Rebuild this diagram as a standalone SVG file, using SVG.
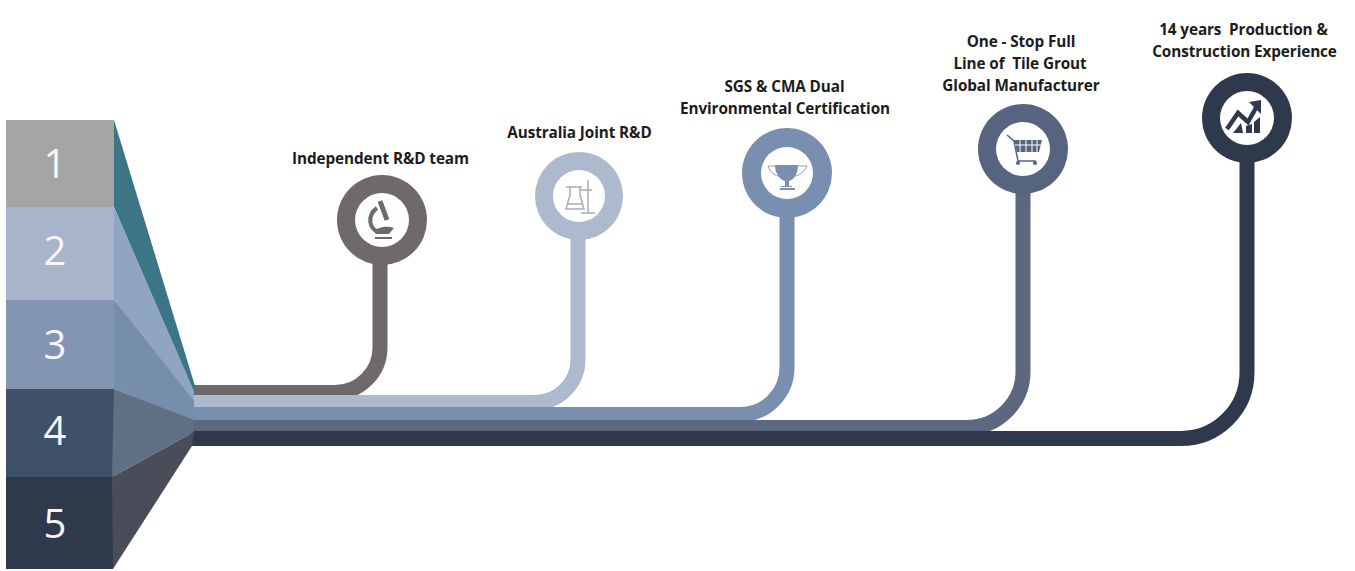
<svg xmlns="http://www.w3.org/2000/svg" width="1355" height="571" viewBox="0 0 1355 571">
<style>
.lbl{font-family:"Open Sans","Liberation Sans",sans-serif;font-weight:700;font-size:15.300px;letter-spacing:-.1px;fill:#1c1c1c;text-anchor:middle}
.num{font-family:"Open Sans","Liberation Sans",sans-serif;font-weight:500;font-size:40px;fill:#f4f6f9;text-anchor:middle}
.line{fill:none;stroke-width:15}
.hole{fill:#fff}
</style>
<rect width="1355" height="571" fill="#fff"/>
<g id="connectors">
<path class="line" stroke="#6f6a69" d="M190 392.500H335A45 45 0 0 0 380 347.500V250"/>
<path class="line" stroke="#adb9cd" d="M190 402.500H535A43 43 0 0 0 578 359.500V225"/>
<path class="line" stroke="#7a8fb0" d="M190 414.500H740A47 47 0 0 0 787 367.500V205"/>
<path class="line" stroke="#5b6880" d="M190 427.500H967A56 56 0 0 0 1023 371.500V180"/>
<path class="line" stroke="#2e3a4c" d="M190 438.500H1181A66 66 0 0 0 1247 372.500V150"/>
</g>
<g id="node-1"><rect x="6" y="120" width="108" height="87" fill="#a5a5a5"/><polygon points="114,120 195,386 195,396 114,207" fill="#3c7685"/><text class="num" x="55" y="178">1</text></g>
<g id="node-2"><rect x="6" y="207" width="108" height="93" fill="#a7b4c9"/><polygon points="114,207 194,391 194,408 114,300" fill="#90a5bf"/><text class="num" x="55" y="265">2</text></g>
<g id="node-3"><rect x="6" y="300" width="108" height="89" fill="#8195b3"/><polygon points="114,300 194,401 194,421 114,389" fill="#768ea9"/><text class="num" x="55" y="359">3</text></g>
<g id="node-4"><rect x="6" y="389" width="108" height="88" fill="#3f5069"/><polygon points="114,389 194,420 194,432 112,477" fill="#5f7085"/><text class="num" x="55" y="445">4</text></g>
<g id="node-5"><rect x="6" y="477" width="107" height="92" fill="#2e3a4c"/><polygon points="112,477 194,432 192,446 113,569" fill="#494d59"/><text class="num" x="55" y="538">5</text></g>
<g id="step-1">
<circle cx="382" cy="220" r="45" fill="#6f6a69"/><circle class="hole" cx="382" cy="220" r="27"/>
<path fill="none" stroke="#6f6a69" stroke-width="4" d="M377 208C367 215 368 231 381 232"/>
<path fill="none" stroke="#6f6a69" stroke-width="5" d="M380 201L387 220"/>
<path fill="#6f6a69" d="M374 232C378 226 388 226 394 228L389 234H376ZM375 237H392V239H375Z"/>
<text class="lbl" x="380.500" y="164">Independent R&amp;D team</text></g>
<g id="step-2">
<circle cx="579" cy="196" r="44" fill="#adb9cd"/><circle class="hole" cx="579" cy="196" r="26"/>
<path fill="none" stroke="#a5adba" stroke-width="1.500" d="M566 187H582M570 187V195L566 209H584L580 195V187M588 180V213M581 213H595M580 190H592M567 204H583"/>
<text class="lbl" x="579.500" y="138">Australia Joint R&amp;D</text></g>
<g id="step-3">
<circle cx="787" cy="173" r="45" fill="#7a8fb0"/><circle class="hole" cx="787" cy="173" r="26"/>
<path fill="#7a8fb0" d="M775 165H798C798 175 793 180 789 181V186H792V187H781V186H785V181C781 180 775 175 775 165ZM780 188H795V190H780Z"/>
<path fill="none" stroke="#8f9fb8" d="M775 166L768 166C770 172 774 175 778 176M798 166L807 166C804 172 800 175 795 176"/>
<text class="lbl" x="784.500" y="92">SGS &amp; CMA Dual</text><text class="lbl" x="785" y="114">Environmental Certification</text></g>
<g id="step-4">
<circle cx="1023" cy="149" r="45" fill="#56647f"/><circle class="hole" cx="1023" cy="149" r="27"/>
<path fill="none" stroke="#56647f" stroke-width="1.500" d="M1007 135L1014 141L1018 161H1036"/>
<path fill="#56647f" d="M1014 140H1042L1039 152H1017Z"/><circle cx="1018" cy="163" r="2" fill="#56647f"/><circle cx="1035" cy="163" r="2" fill="#56647f"/>
<path fill="none" stroke="#fff" d="M1015 145H1041M1020 140V152M1026 140V152M1032 140V152M1037 140V152"/>
<text class="lbl" x="1021" y="47">One - Stop Full</text><text class="lbl" x="1020" y="69" xml:space="preserve">Line of  Tile Grout</text><text class="lbl" x="1021" y="91">Global Manufacturer</text></g>
<g id="step-5">
<circle cx="1247" cy="118" r="45" fill="#2e3a4c"/><circle class="hole" cx="1247" cy="118" r="27"/>
<path fill="#2e3a4c" d="M1233 133L1241 123L1243 133ZM1246 133V126L1252 124V133ZM1254 133V122L1260 117V133ZM1249 102L1261 100V114Z"/>
<path fill="none" stroke="#2e3a4c" stroke-width="4.500" d="M1227 129L1238 113L1248 122L1257 106"/>
<text class="lbl" x="1243.500" y="35" xml:space="preserve">14 years  Production &amp;</text><text class="lbl" x="1244.500" y="57">Construction Experience</text></g>
</svg>
